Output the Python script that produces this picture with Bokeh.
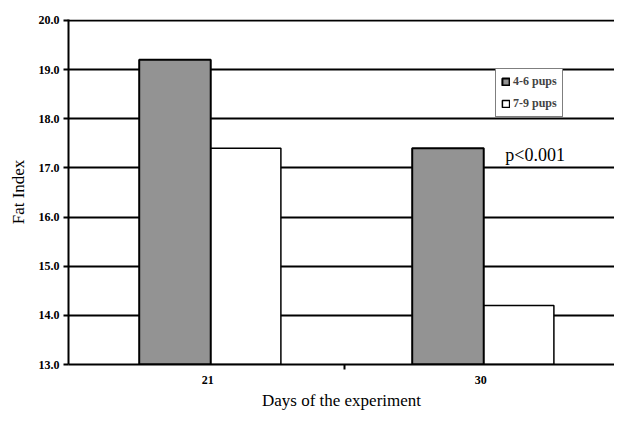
from bokeh.plotting import figure
from bokeh.models import Range1d, FixedTicker, Label, Legend, LegendItem, ColumnDataSource
from bokeh.embed import file_html
from bokeh.resources import INLINE

days = ["21", "30"]
pups_4_6 = [19.2, 17.4]
pups_7_9 = [17.4, 14.2]
series_labels = ["4-6 pups", "7-9 pups"]
y_ticks = [13, 14, 15, 16, 17, 18, 19, 20]
p_value_text = "p<0.001"

SERIF = "Liberation Serif"

idx = list(range(len(days)))
src = ColumnDataSource(dict(
    x_dark=[i + 0.39 for i in idx],
    x_white=[i + 0.65 for i in idx],
    dark=pups_4_6,
    white=pups_7_9,
))

p = figure(width=614, height=412, output_backend="svg", toolbar_location=None,
           x_range=Range1d(0, len(days)), y_range=Range1d(13, 20.02),
           min_border_left=68, min_border_top=19, min_border_right=0, min_border_bottom=40)
p.outline_line_color = None

bottom = 13
r1 = p.vbar(x="x_dark", top="dark", bottom=bottom, width=0.262, source=src,
            fill_color="#939393", line_color="black", line_width=2)
r2 = p.vbar(x="x_white", top="white", bottom=bottom, width=0.256, source=src,
            fill_color="white", line_color="black", line_width=1.5)

# axes
p.xaxis.ticker = FixedTicker(ticks=[i + 0.51 for i in idx], minor_ticks=[i + 0.01 for i in idx[1:]])
p.xaxis.major_label_overrides = {i + 0.51: d for i, d in zip(idx, days)}
p.xaxis.major_tick_out = 0
p.xaxis.major_tick_in = 0
p.xaxis.minor_tick_out = 5
p.xaxis.minor_tick_in = 0
p.xaxis.minor_tick_line_width = 2
p.xaxis.axis_line_width = 2
p.xaxis.axis_label = "Days of the experiment"
p.xaxis.major_label_standoff = 6
p.xaxis.axis_label_standoff = 4

p.yaxis.ticker = FixedTicker(ticks=y_ticks, minor_ticks=[])
p.yaxis.major_label_overrides = {t: f"{t:.1f}" for t in y_ticks}
p.yaxis.major_tick_out = 5
p.yaxis.major_tick_in = 0
p.yaxis.major_tick_line_width = 2
p.yaxis.axis_line_width = 2
p.yaxis.axis_label = "Fat Index"
p.yaxis.major_label_standoff = 4
p.yaxis.axis_label_standoff = 8

for ax in (p.xaxis, p.yaxis):
    ax.major_label_text_font = SERIF
    ax.major_label_text_font_style = "bold"
    ax.major_label_text_font_size = "12px"
    ax.major_label_text_color = "black"
    ax.axis_label_text_font = SERIF
    ax.axis_label_text_font_style = "normal"
    ax.axis_label_text_font_size = "17px"
    ax.axis_label_text_color = "black"
    ax.axis_line_color = "black"

p.xgrid.grid_line_color = None
p.ygrid.ticker = FixedTicker(ticks=y_ticks)
p.ygrid.grid_line_color = "black"
p.ygrid.grid_line_width = 2
p.ygrid.grid_line_alpha = 1

legend = Legend(items=[LegendItem(label=series_labels[0], renderers=[r1]),
                       LegendItem(label=series_labels[1], renderers=[r2])],
                location=(427, 247))
legend.label_text_font = SERIF
legend.label_text_font_style = "bold"
legend.label_text_font_size = "12px"
legend.glyph_width = 9
legend.glyph_height = 9
legend.label_standoff = 3
legend.label_height = 12
legend.spacing = 7
legend.padding = 5
legend.margin = 0
legend.border_line_color = "black"
legend.border_line_width = 1.5
legend.background_fill_color = "white"
legend.background_fill_alpha = 1
p.add_layout(legend, "center")

p.add_layout(Label(x=1.60, y=17.05, text=p_value_text, text_font=SERIF,
                   text_font_size="18px", text_color="black"))

open("out.html", "w").write(file_html(p, INLINE))
